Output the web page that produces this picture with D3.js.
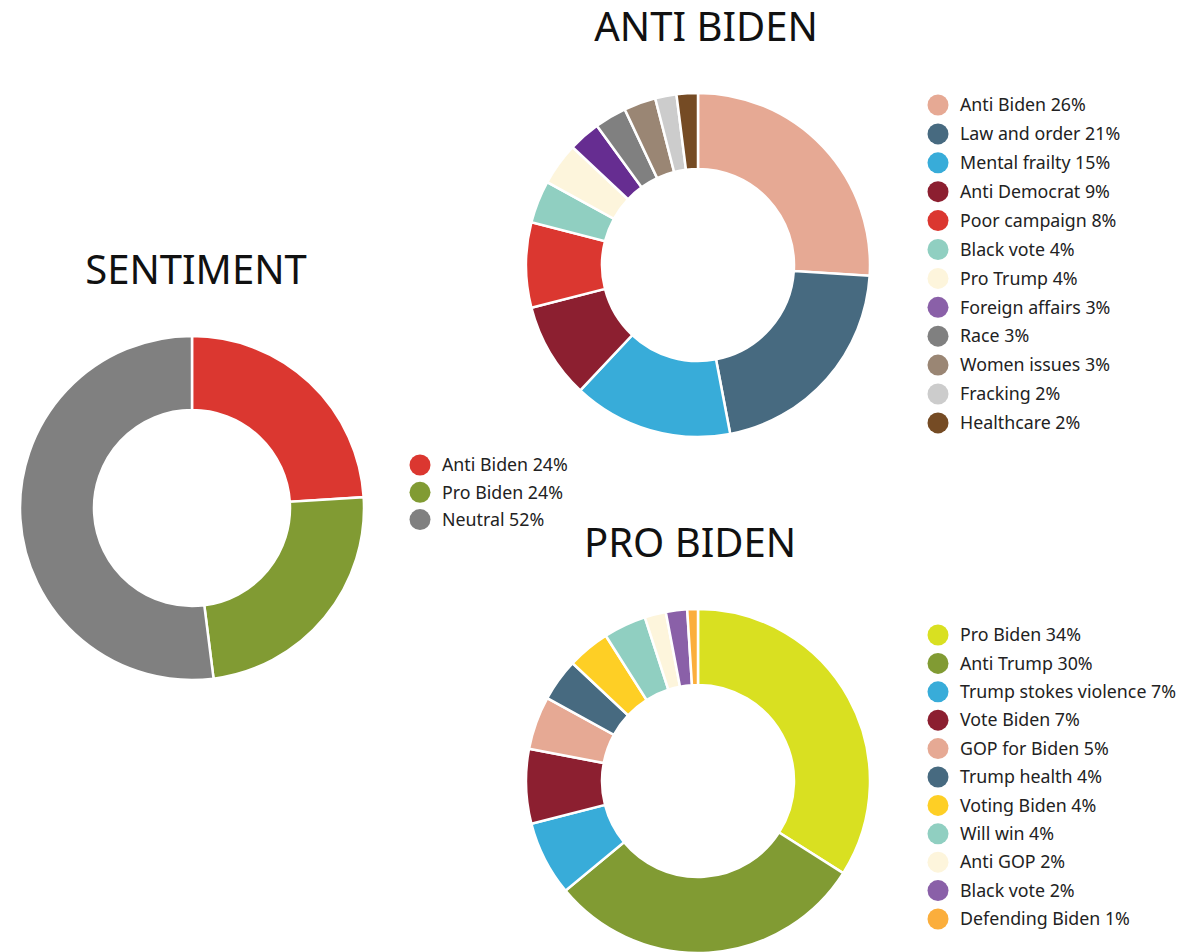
<!DOCTYPE html>
<html>
<head>
<meta charset="utf-8">
<script src="https://cdn.jsdelivr.net/npm/d3@7"></script>
<style>
  body { margin: 0; background: #fff; }
  svg { display: block; font-family: "Noto Sans", sans-serif; }
  .title { font-size: 40px; fill: #111; }
  .legend text { font-size: 17.8px; fill: #222; }
</style>
</head>
<body>
<svg id="chart" width="1201" height="952"></svg>
<script>
// Sentiment
const sentimentLabels = ['Anti Biden', 'Pro Biden', 'Neutral'];
const sentimentValues = [24, 24, 52];
const sentimentColors = ['#db3730', '#819b33', '#808080'];

// Anti Biden topics
const antiLabels = ['Anti Biden', 'Law and order', 'Mental frailty', 'Anti Democrat', 'Poor campaign',
  'Black vote', 'Pro Trump', 'Foreign affairs', 'Race', 'Women issues', 'Fracking', 'Healthcare'];
const antiValues = [26, 21, 15, 9, 8, 4, 4, 3, 3, 3, 2, 2];
const antiColors = ['#e6a994', '#476a80', '#38acd9', '#8c1f30', '#db3730', '#90cfc1', '#fdf5dc',
  '#662d91', '#808080', '#9a8674', '#cccccc', '#754b24'];
// legend swatch for foreign affairs is lighter than its slice in the original
const antiLegendColors = antiColors.map((c, i) => i === 7 ? '#8a60a8' : c);

// Pro Biden topics
const proLabels = ['Pro Biden', 'Anti Trump', 'Trump stokes violence', 'Vote Biden', 'GOP for Biden',
  'Trump health', 'Voting Biden', 'Will win', 'Anti GOP', 'Black vote', 'Defending Biden'];
const proValues = [34, 30, 7, 7, 5, 4, 4, 4, 2, 2, 1];
const proColors = ['#d9e021', '#819b33', '#38acd9', '#8c1f30', '#e6a994', '#476a80', '#fecf25',
  '#90cfc1', '#fdf5dc', '#8a60a8', '#fbae3c'];

const svg = d3.select('#chart');

function donut(cfg) {
  const data = cfg.values.map((v, i) => ({ label: cfg.labels[i], value: v, i }));
  const pie = d3.pie().value(d => d.value).sort(null);
  const arc = d3.arc().innerRadius(cfg.inner).outerRadius(cfg.outer);

  const g = svg.append('g').attr('transform', `translate(${cfg.cx},${cfg.cy})`);
  g.selectAll('path')
    .data(pie(data))
    .join('path')
    .attr('d', arc)
    .attr('fill', d => cfg.colors[d.data.i])
    .attr('stroke', '#fff')
    .attr('stroke-width', 2.5);

  svg.append('text')
    .attr('class', 'title')
    .attr('x', cfg.titleX)
    .attr('y', cfg.titleY)
    .attr('text-anchor', 'middle')
    .text(cfg.title);

  const y = d3.scaleLinear().domain([0, 1]).range([cfg.legendY, cfg.legendY + cfg.legendStep]);
  const lg = svg.append('g').attr('class', 'legend');
  const rows = lg.selectAll('g')
    .data(data)
    .join('g')
    .attr('transform', d => `translate(${cfg.legendX},${y(d.i)})`);
  rows.append('circle')
    .attr('r', 10.5)
    .attr('fill', d => (cfg.legendColors || cfg.colors)[d.i]);
  rows.append('text')
    .attr('x', 22)
    .attr('dy', '0.35em')
    .text(d => `${d.label} ${d.value}%`);
}

donut({
  labels: sentimentLabels, values: sentimentValues, colors: sentimentColors,
  cx: 192, cy: 508, outer: 172, inner: 98,
  title: 'SENTIMENT', titleX: 196, titleY: 284,
  legendX: 420, legendY: 465, legendStep: 27.3
});

donut({
  labels: antiLabels, values: antiValues, colors: antiColors, legendColors: antiLegendColors,
  cx: 698, cy: 265, outer: 172, inner: 96,
  title: 'ANTI BIDEN', titleX: 706, titleY: 41,
  legendX: 938, legendY: 105, legendStep: 28.9
});

donut({
  labels: proLabels, values: proValues, colors: proColors,
  cx: 698, cy: 781, outer: 172, inner: 96,
  title: 'PRO BIDEN', titleX: 690, titleY: 557,
  legendX: 938, legendY: 635, legendStep: 28.4
});
</script>
</body>
</html>
